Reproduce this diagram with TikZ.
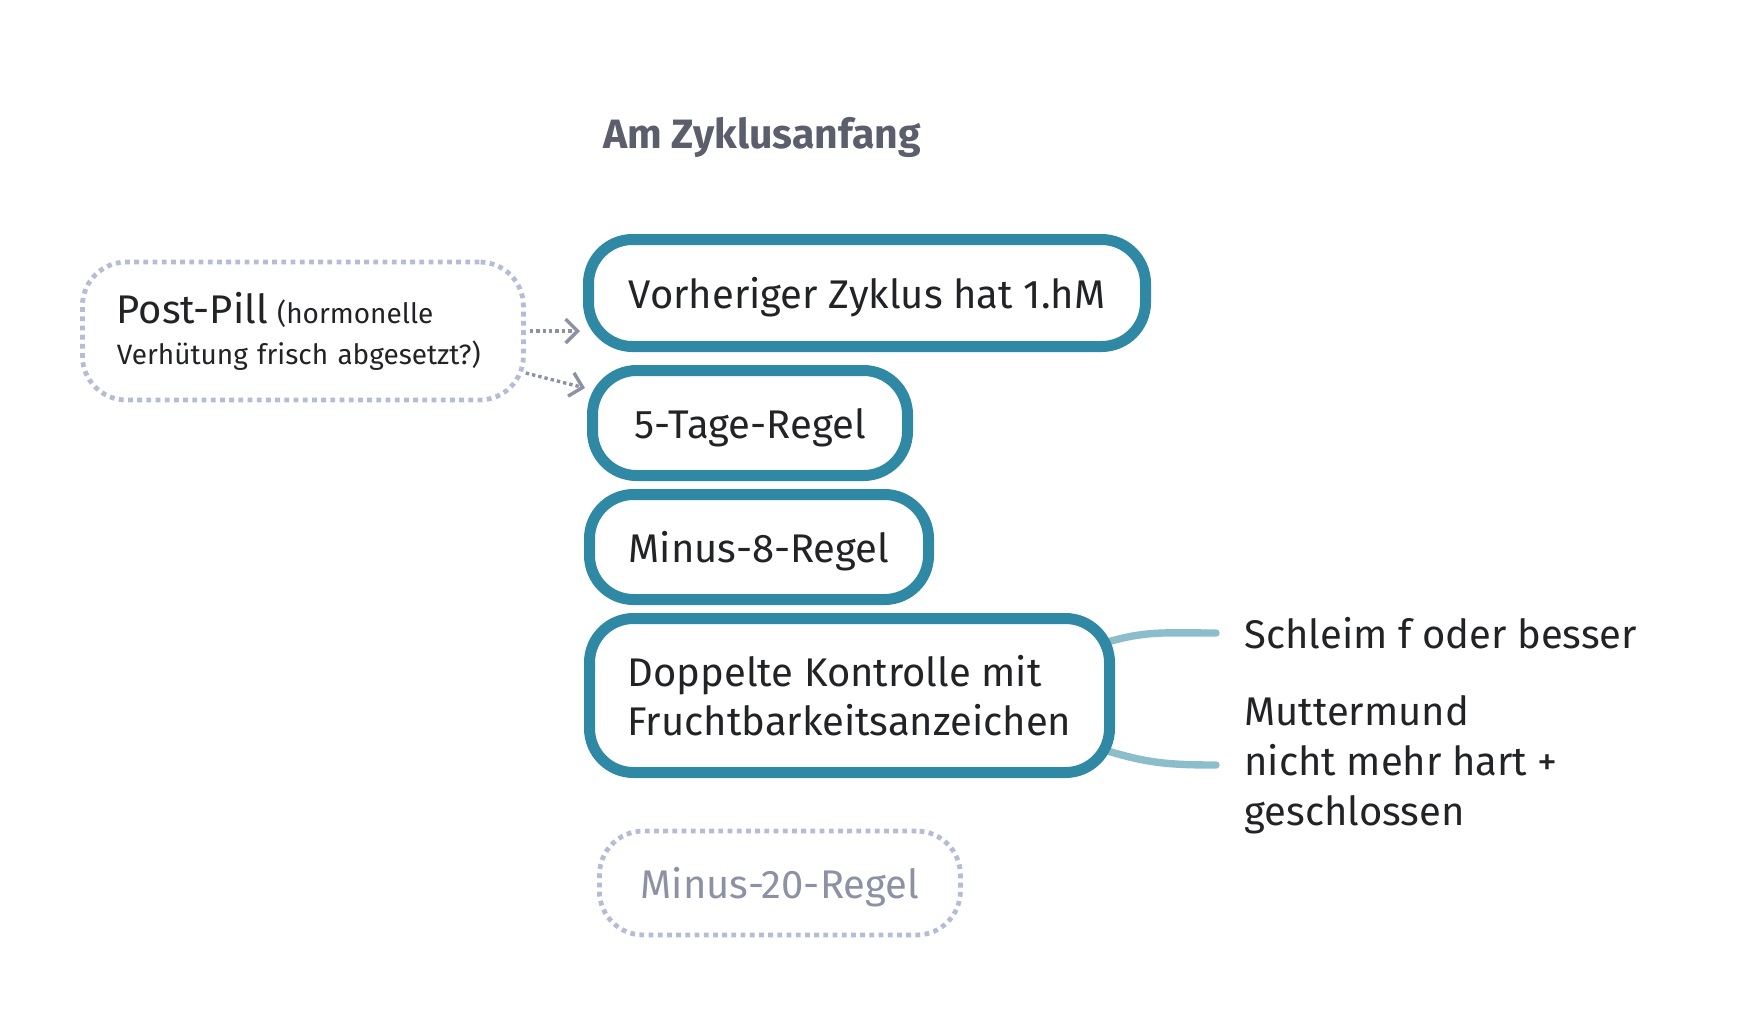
\documentclass[tikz,border=0pt]{standalone}
\usepackage{fontspec}
\setmainfont{Fira Sans}
\usepackage{tikz}
\usetikzlibrary{arrows.meta, calc, backgrounds}

\definecolor{tealrand}{HTML}{2F89A4}
\definecolor{tealhell}{HTML}{8BBDCB}
\definecolor{punktgrau}{HTML}{B4BDD5}
\definecolor{pfeilgrau}{HTML}{8C92A3}
\definecolor{titelgrau}{HTML}{5B5E6B}
\definecolor{textdunkel}{HTML}{222326}

\begin{document}
\begin{tikzpicture}[x=0.5pt, y=-0.5pt,
  regel/.style={draw=tealrand, line width=5.5pt, rounded corners=22pt, fill=white,
    inner xsep=10pt, inner ysep=0pt, align=left, anchor=west, text=textdunkel, text depth=0pt,
    font=\fontsize{20}{24.5}\selectfont},
  vielleicht/.style={draw=punktgrau, line width=2.4pt, dash pattern=on 2.4pt off 2.2pt,
    rounded corners=22pt, fill=white, inner xsep=10pt, inner ysep=0pt, align=left, anchor=west},
  pfeil/.style={draw=pfeilgrau, line width=1.7pt, dash pattern=on 1.7pt off 1.5pt,
    -{Straight Barb[length=6pt, width=12pt, line width=1.7pt]}},
  zweig/.style={draw=tealhell, line width=3.7pt, line cap=round},
  seite/.style={anchor=west, inner xsep=14pt, inner ysep=0pt, align=left, text=textdunkel,
    font=\fontsize{20}{25}\selectfont}]
  \useasboundingbox (0,0) rectangle (1750,1014);

  % Ueberschrift
  \node[font=\bfseries\fontsize{20.5}{24}\selectfont, text=titelgrau] (titel) at (762,137) {Am Zyklusanfang};

  % Regeln
  \node[regel, minimum width=278.5pt, minimum height=53.5pt] (vorher) at (583,293) {Vorheriger Zyklus hat 1.hM};
  \node[regel, minimum width=157.5pt, minimum height=52.5pt] (fuenf) at (587,423) {5-Tage-Regel};
  \node[regel, minimum width=169.5pt, minimum height=52.5pt] (minusacht) at (584,547) {Minus-8-Regel};
  \node[regel, minimum width=260pt, minimum height=77pt] (doppelt) at (584,695.5) {Doppelte Kontrolle mit\\Fruchtbarkeitsanzeichen};

  % unsichere Faelle
  \node[vielleicht, minimum width=180.5pt, minimum height=52pt, text=pfeilgrau, text depth=0pt,
    font=\fontsize{20}{24}\selectfont] (minuszwanzig) at (597,883) {Minus-20-Regel};
  \node[vielleicht, text width=186pt, inner xsep=17.25pt, minimum height=69pt, text=textdunkel,
    font=\fontsize{14}{20.5}\selectfont] (postpill) at (80,331)
    {{\fontsize{20}{20.5}\selectfont Post-Pill} (hormonelle\\Verhütung frisch abgesetzt?)};

  % Zeichen
  \node[seite] (schleim) at (1216,633) {Schleim f oder besser};
  \node[seite] (mumu) at (1216,765) {Muttermund\\nicht mehr hart +\\geschlossen};

  % Pfeile von Post-Pill
  \draw[pfeil] ($(postpill.east)+(4,0)$) -- ($(vorher.west)+(-3,38)$);
  \draw[pfeil] ($(postpill.east)+(0,42)$) -- ($(fuenf.west)+(-2,-35)$);

  % Verbindungen
  \begin{scope}[on background layer]
    \draw[zweig] ($(doppelt.east)+(-9,-53)$) .. controls +(40,-12) and +(-50,0) .. (schleim.west);
    \draw[zweig] ($(doppelt.east)+(-9,55)$) .. controls +(40,12) and +(-50,0) .. (mumu.west);
  \end{scope}
\end{tikzpicture}
\end{document}
